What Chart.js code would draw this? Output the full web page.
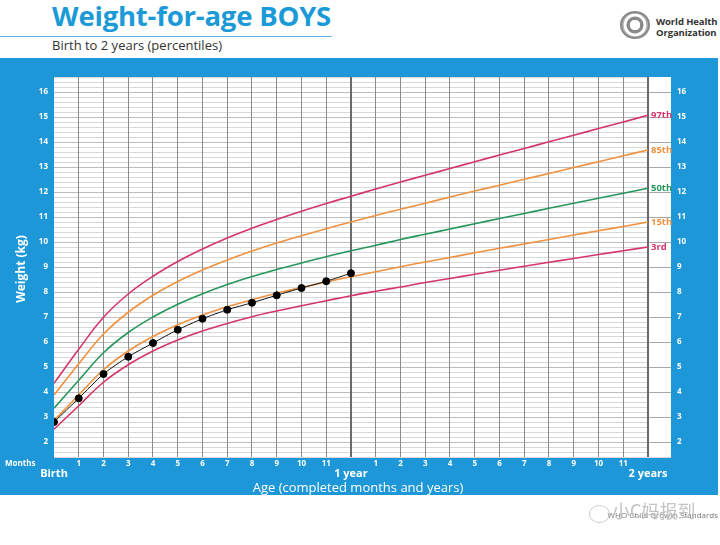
<!DOCTYPE html>
<html>
<head>
<meta charset="utf-8">
<script src="https://cdn.jsdelivr.net/npm/chart.js@4.4.0/dist/chart.umd.min.js"></script>
<style>
  body { margin: 0; width: 720px; height: 545px; background: #fff; position: relative; overflow: hidden; font-family: "Open Sans", sans-serif; }
  .abs { position: absolute; white-space: nowrap; line-height: 1; }
  #panel { position: absolute; left: 0; top: 58px; width: 718px; height: 437px; background: #1d97d7; }
  #growthChart { position: absolute; left: 0; top: 0; }
  .title { left: 52px; top: 2px; font-size: 27.5px; font-weight: 700; color: #1b9ad7; letter-spacing: -0.2px; }
  .rule { position: absolute; left: 0; top: 36px; width: 332px; height: 1px; background: #5db8e6; }
  .sub { left: 52px; top: 39px; font-size: 13px; color: #333; }
  .who { left: 656px; font-size: 9.5px; font-weight: 700; color: #333; letter-spacing: -0.1px; }
  .emblem { position: absolute; left: 620px; top: 11px; width: 30px; height: 28px; border-radius: 50%; border: 2px solid #888; box-sizing: border-box; background: radial-gradient(circle, #fff 28%, #8a8a8a 31%, #8a8a8a 46%, #fff 50%, #fff 62%, #b0b0b0 66%); }
  .white { color: #fff; }
  .months { left: 5px; top: 459px; font-size: 8px; font-weight: 700; }
  .agetitle { left: 0; width: 716px; text-align: center; top: 481px; font-size: 13px; }
  .ytitle { left: 21px; top: 269px; font-size: 12px; font-weight: 700; transform: translate(-50%, -50%) rotate(-90deg); }
  .src { right: 2px; top: 511px; font-size: 8px; color: #777; }
  .mark { left: 612px; top: 501px; font-size: 18px; color: #c4c4c4; font-family: "Noto Sans CJK SC", sans-serif; }
  .markicon { position: absolute; left: 589px; top: 505px; width: 19px; height: 16px; border: 1.5px solid #ccc; border-radius: 50%; }
</style>
</head>
<body>
<div class="abs title">Weight-for-age BOYS</div>
<div class="rule"></div>
<div class="abs sub">Birth to 2 years (percentiles)</div>
<div class="emblem"></div>
<div class="abs who" style="top:17px">World Health</div>
<div class="abs who" style="top:28px">Organization</div>
<div id="panel"></div>
<canvas id="growthChart" width="720" height="545"></canvas>
<div class="abs white months">Months</div>
<div class="abs white ytitle">Weight (kg)</div>
<div class="abs white agetitle">Age (completed months and years)</div>
<div class="abs src">WHO Child Growth Standards</div>
<div class="markicon"></div>
<div class="abs mark">小C妈报到</div>
<script>
// WHO weight-for-age boys, 0-24 months (kg)
const months = [0,1,2,3,4,5,6,7,8,9,10,11,12,13,14,15,16,17,18,19,20,21,22,23,24];
const p3  = [2.51,3.45,4.39,5.09,5.64,6.08,6.44,6.74,7.01,7.24,7.45,7.65,7.85,8.03,8.20,8.38,8.54,8.71,8.87,9.03,9.19,9.34,9.50,9.65,9.80];
const p15 = [2.86,3.88,4.89,5.64,6.22,6.69,7.08,7.41,7.69,7.95,8.18,8.40,8.61,8.81,9.01,9.20,9.38,9.57,9.75,9.92,10.10,10.28,10.45,10.62,10.80];
const p50 = [3.35,4.47,5.57,6.38,7.00,7.51,7.93,8.30,8.62,8.90,9.16,9.41,9.65,9.87,10.10,10.31,10.52,10.73,10.94,11.14,11.35,11.55,11.75,11.95,12.15];
const p85 = [3.88,5.13,6.32,7.19,7.87,8.42,8.88,9.28,9.64,9.96,10.25,10.53,10.80,11.06,11.31,11.55,11.80,12.04,12.27,12.51,12.74,12.98,13.21,13.45,13.68];
const p97 = [4.35,5.71,6.99,7.92,8.63,9.22,9.72,10.16,10.55,10.90,11.23,11.54,11.83,12.12,12.40,12.67,12.94,13.21,13.48,13.74,14.01,14.27,14.54,14.80,15.07];

// the plotted child
const childAge = [0,1,2,3,4,5,6,7,8,9,10,11,12];
const childWeight = [2.8,3.75,4.72,5.41,5.96,6.49,6.93,7.29,7.57,7.87,8.16,8.43,8.75];

const monthLabels = ['','1','2','3','4','5','6','7','8','9','10','11','','1','2','3','4','5','6','7','8','9','10','11',''];
const yearTicks = [0,12,24];
const yearLabels = ['Birth','1 year','2 years'];
const weightLabels = [2,3,4,5,6,7,8,9,10,11,12,13,14,15,16];

const pink = '#d5366a';
const orange = '#f0913f';
const green = '#26975c';

const Y_MIN = 1.4, Y_MAX = 16.6, X_MAX = 24.93;

Chart.defaults.font.family = "'Open Sans', sans-serif";

// minor lines every 0.2 kg
const yGrid = [];
for (let v = Y_MIN; v <= Y_MAX + 0.001; v += 0.2) yGrid.push(Math.round(v * 10) / 10);
const isWhole = v => Math.abs(v - Math.round(v)) < 0.001;

const pts = (xs, ys) => xs.map((x, i) => ({x: x, y: ys[i]}));

const curve = (label, values, color) => ({
  label: label,
  data: pts(months, values),
  borderColor: color,
  borderWidth: 1.6,
  pointRadius: 0,
  tension: 0.4,
  tag: label,
  tagColor: color
});

const plotBg = {
  id: 'plotBg',
  beforeDraw(chart) {
    const {ctx, chartArea: a} = chart;
    ctx.save();
    ctx.fillStyle = '#fff';
    ctx.fillRect(a.left, a.top, a.right - a.left, a.bottom - a.top);
    ctx.restore();
  },
  beforeDatasetsDraw(chart) {
    // blank margin right of 2 years, only whole kg lines
    const {ctx, chartArea: a, scales} = chart;
    const x0 = scales.x.getPixelForValue(24) + 1.2;
    ctx.save();
    ctx.fillStyle = '#fff';
    ctx.fillRect(x0, a.top, a.right - x0, a.bottom - a.top);
    ctx.strokeStyle = '#a8a8a8';
    ctx.lineWidth = 1;
    weightLabels.forEach(w => {
      const y = Math.round(scales.y.getPixelForValue(w)) + 0.5;
      ctx.beginPath();
      ctx.moveTo(x0, y);
      ctx.lineTo(a.right, y);
      ctx.stroke();
    });
    ctx.restore();
  },
  afterDatasetsDraw(chart) {
    const {ctx, scales} = chart;
    ctx.save();
    ctx.font = "bold 9.5px 'Open Sans', sans-serif";
    ctx.textBaseline = 'middle';
    chart.data.datasets.forEach((ds, i) => {
      if (!ds.tag) return;
      const meta = chart.getDatasetMeta(i);
      const last = meta.data[meta.data.length - 1];
      ctx.fillStyle = ds.tagColor;
      ctx.fillText(ds.tag, scales.x.getPixelForValue(24) + 3, last.y);
    });
    ctx.restore();
  }
};

new Chart(document.getElementById('growthChart'), {
  type: 'line',
  data: {
    datasets: [
      {
        label: 'child',
        data: pts(childAge, childWeight),
        borderColor: '#111',
        borderWidth: 1,
        pointRadius: 3.5,
        pointBackgroundColor: '#000',
        pointBorderColor: '#000',
        tension: 0.25
      },
      curve('97th', p97, pink),
      curve('85th', p85, orange),
      curve('50th', p50, green),
      curve('15th', p15, orange),
      curve('3rd', p3, pink)
    ]
  },
  options: {
    responsive: false,
    animation: false,
    devicePixelRatio: 1,
    layout: { padding: { left: 0, right: 0, top: 77, bottom: 54 } },
    plugins: { legend: { display: false }, tooltip: { enabled: false } },
    scales: {
      x: {
        type: 'linear', min: 0, max: X_MAX, position: 'bottom', weight: 0,
        afterBuildTicks: s => { s.ticks = months.map(v => ({value: v})); },
        afterFit: s => { s.height = 12; },
        ticks: {
          autoSkip: false, maxRotation: 0, color: '#fff', padding: 2,
          font: { size: 8, weight: 'bold' },
          callback: (v, i) => monthLabels[i]
        },
        grid: {
          z: -1,
          drawTicks: false,
          color: c => (c.tick.value === 0 ? 'rgba(0,0,0,0)' : (c.tick.value % 12 === 0 ? '#6a6a6a' : '#8c8c8c')),
          lineWidth: c => (c.tick.value % 12 === 0 ? 2 : 1)
        },
        border: { display: false }
      },
      x2: {
        type: 'linear', min: 0, max: X_MAX, position: 'bottom', weight: 1,
        afterBuildTicks: s => { s.ticks = yearTicks.map(v => ({value: v})); },
        afterFit: s => { s.height = 22; },
        ticks: {
          autoSkip: false, maxRotation: 0, color: '#fff', padding: -2,
          font: { size: 11, weight: 'bold' },
          callback: (v, i) => yearLabels[i]
        },
        grid: { display: false, drawTicks: false },
        border: { display: false }
      },
      y: {
        type: 'linear', min: Y_MIN, max: Y_MAX, position: 'left',
        afterBuildTicks: s => { s.ticks = yGrid.map(v => ({value: v})); },
        afterFit: s => { s.width = 54; },
        ticks: {
          autoSkip: false, color: '#fff', padding: 6,
          font: { size: 8, weight: 'bold' },
          callback: v => (isWhole(v) && weightLabels.includes(Math.round(v)) ? Math.round(v) : '')
        },
        grid: {
          z: -2,
          drawTicks: false,
          color: c => (isWhole(c.tick.value) ? '#bdbdbd' : '#d8d8d8'),
          lineWidth: 1
        },
        border: { display: false }
      },
      y2: {
        type: 'linear', min: Y_MIN, max: Y_MAX, position: 'right',
        afterBuildTicks: s => { s.ticks = yGrid.map(v => ({value: v})); },
        afterFit: s => { s.width = 49; },
        ticks: {
          autoSkip: false, color: '#fff', padding: 6,
          font: { size: 8, weight: 'bold' },
          callback: v => (isWhole(v) && weightLabels.includes(Math.round(v)) ? Math.round(v) : '')
        },
        grid: { display: false, drawTicks: false },
        border: { display: false }
      }
    }
  },
  plugins: [plotBg]
});
</script>
</body>
</html>
